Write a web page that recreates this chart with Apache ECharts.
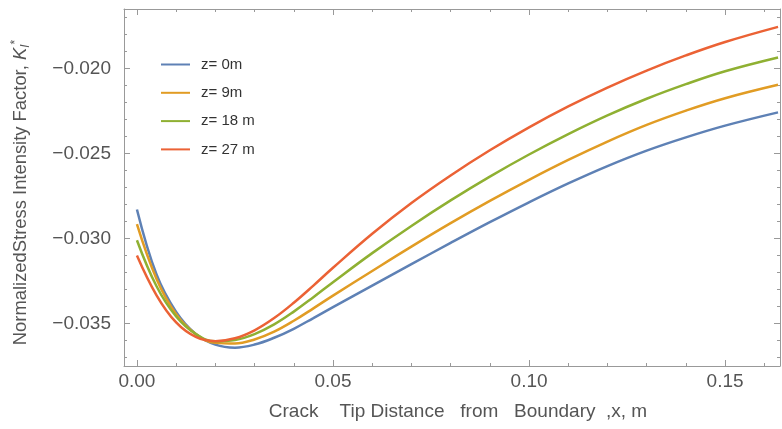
<!DOCTYPE html>
<html>
<head>
<meta charset="utf-8">
<script src="https://cdn.jsdelivr.net/npm/echarts@6/dist/echarts.min.js"></script>
<style>html,body{margin:0;padding:0;background:#fff}#c{width:782px;height:429px}</style>
</head>
<body>
<div id="c"></div>
<script>
const xs = [0, 0.005, 0.01, 0.015, 0.02, 0.025, 0.03, 0.035, 0.04, 0.045, 0.05, 0.06, 0.07, 0.08, 0.09, 0.10, 0.11, 0.12, 0.13, 0.14, 0.15, 0.1635];
const seriesNames = ['z= 0m', 'z= 9m', 'z= 18 m', 'z= 27 m'];
const z0 = [-0.02829, -0.03212, -0.03432, -0.03562, -0.03624, -0.03642, -0.03624, -0.03584, -0.03531, -0.03468, -0.03404, -0.03277, -0.03151, -0.03026, -0.02904, -0.02787, -0.02676, -0.02574, -0.02483, -0.02405, -0.02336, -0.02258];
const z9 = [-0.02916, -0.03238, -0.03446, -0.03562, -0.03614, -0.03618, -0.03594, -0.03548, -0.03484, -0.03411, -0.03336, -0.03191, -0.03048, -0.0291, -0.02779, -0.02655, -0.02538, -0.0243, -0.02332, -0.02248, -0.02175, -0.02096];
const z18 = [-0.0301, -0.03281, -0.03459, -0.03562, -0.03605, -0.03597, -0.03562, -0.03505, -0.0343, -0.03345, -0.03257, -0.03086, -0.02926, -0.02776, -0.02636, -0.02506, -0.02386, -0.02276, -0.02178, -0.02092, -0.02016, -0.01935];
const z27 = [-0.0310, -0.03334, -0.03494, -0.03579, -0.03604, -0.03587, -0.0354, -0.03468, -0.03378, -0.03277, -0.03172, -0.02972, -0.02791, -0.02629, -0.02481, -0.02346, -0.02223, -0.02112, -0.02012, -0.01923, -0.01844, -0.01755];
const xMajor = [0, 0.05, 0.10, 0.15];
const xMinor = [0.01, 0.02, 0.03, 0.04, 0.06, 0.07, 0.08, 0.09, 0.11, 0.12, 0.13, 0.14, 0.16];
const yMajor = [-0.035, -0.030, -0.025, -0.020];
const yMinor = [-0.037, -0.036, -0.034, -0.033, -0.032, -0.031, -0.029, -0.028, -0.027, -0.026, -0.024, -0.023, -0.022, -0.021, -0.019, -0.018, -0.017];
const colors = ['#5E81B5', '#E19C24', '#8FB032', '#EB6235'];

const X_MIN = -0.0033, X_MAX = 0.164, Y_MIN = -0.0375, Y_MAX = -0.0165;
const FONT = 'Liberation Sans';
const frame = '#999999';
const txt = '#555555';

function xa(pos, vals, len, main) {
  return {
    type: 'value', position: pos, min: X_MIN, max: X_MAX,
    axisLine: { show: main, onZero: false, lineStyle: { color: frame, width: 1 } },
    axisTick: { show: true, inside: true, length: len, customValues: vals, lineStyle: { color: frame } },
    axisLabel: { show: false },
    splitLine: { show: false }
  };
}
function ya(pos, vals, len, main) {
  return {
    type: 'value', position: pos, min: Y_MIN, max: Y_MAX,
    axisLine: { show: main, onZero: false, lineStyle: { color: frame, width: 1 } },
    axisTick: { show: true, inside: true, length: len, customValues: vals, lineStyle: { color: frame } },
    axisLabel: { show: false },
    splitLine: { show: false }
  };
}

const xAxes = [xa('bottom', xMajor, 6, true), xa('bottom', xMinor, 3, false), xa('top', xMajor, 6, true), xa('top', xMinor, 3, false)];
xAxes[0].axisLabel = { show: true, customValues: xMajor, formatter: v => v.toFixed(2), margin: 6, fontSize: 19, fontFamily: FONT, color: txt };
xAxes[0].name = 'Crack    Tip Distance   from   Boundary  ,x, m';
xAxes[0].nameLocation = 'middle';
xAxes[0].nameGap = 36;
xAxes[0].nameTextStyle = { fontSize: 19, fontFamily: FONT, color: txt, padding: [0, 0, 0, 12] };

const yAxes = [ya('left', yMajor, 6, true), ya('left', yMinor, 3, false), ya('right', yMajor, 6, true), ya('right', yMinor, 3, false)];
yAxes[0].axisLabel = { show: true, customValues: yMajor, formatter: v => '\u2212' + Math.abs(v).toFixed(3), margin: 13, fontSize: 19, fontFamily: FONT, color: txt };
yAxes[0].name = 'NormalizedStress Intensity Factor, {k|K}{s|I}{p|*}';
yAxes[0].nameLocation = 'middle';
yAxes[0].nameGap = 92;
yAxes[0].nameTextStyle = {
  fontSize: 18.4, fontFamily: FONT, color: txt, padding: [0, 10, 0, 0],
  rich: {
    k: { fontSize: 18.4, fontStyle: 'italic', fontFamily: FONT, color: txt },
    s: { fontSize: 12, fontStyle: 'italic', fontFamily: FONT, color: txt, verticalAlign: 'bottom', lineHeight: 22 },
    p: { fontSize: 12, fontFamily: FONT, color: txt, verticalAlign: 'top', lineHeight: 22 }
  }
};

const data = [z0, z9, z18, z27];
const series = data.map((ys, i) => ({
  name: seriesNames[i], type: 'line', xAxisIndex: 0, yAxisIndex: 0,
  data: xs.map((x, j) => [x, ys[j]]),
  showSymbol: false, smooth: 0.4, clip: true,
  lineStyle: { color: colors[i], width: 2.5 },
  itemStyle: { color: colors[i] }
}));

const chart = echarts.init(document.getElementById('c'), null, { renderer: 'canvas' });
chart.setOption({
  animation: false,
  backgroundColor: '#fff',
  grid: { left: 124, right: 2, top: 9, bottom: 63, containLabel: false },
  legend: {
    orient: 'vertical', left: 161, top: 57, padding: 0,
    icon: 'rect', itemWidth: 29, itemHeight: 2, itemGap: 13.3,
    data: seriesNames,
    textStyle: { fontSize: 15, fontFamily: FONT, color: '#333', lineHeight: 15, padding: [0, 0, 0, 6] }
  },
  xAxis: xAxes,
  yAxis: yAxes,
  series: series
});
</script>
</body>
</html>
